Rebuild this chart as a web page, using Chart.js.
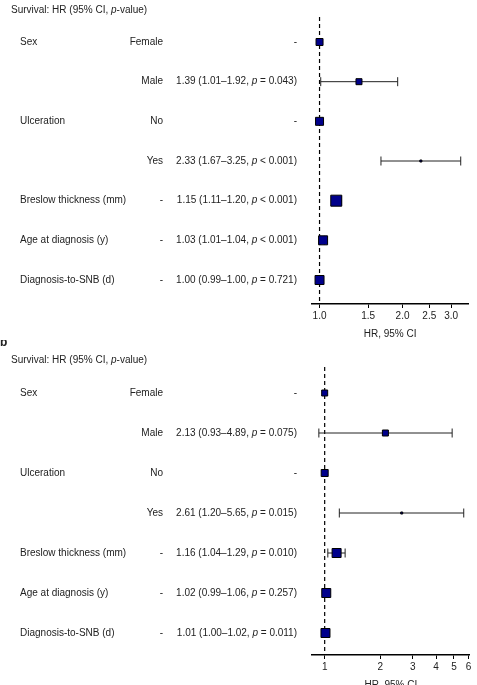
<!DOCTYPE html>
<html><head><meta charset="utf-8">
<script src="https://cdn.jsdelivr.net/npm/chart.js@4/dist/chart.umd.min.js"></script>
<style>
body{margin:0;background:#fff;width:477px;height:685px;overflow:hidden;position:relative}
canvas{position:absolute;left:0}
</style></head><body>
<div style="position:absolute;left:0;top:0;width:477px;height:342px"><canvas id="a"></canvas></div>
<div style="position:absolute;left:0;top:340px;width:477px;height:345px"><canvas id="b"></canvas></div>
<script>
const variables = ["Sex","","Ulceration","","Breslow thickness (mm)","Age at diagnosis (y)","Diagnosis-to-SNB (d)"];
const levels = ["Female","Male","No","Yes","-","-","-"];
// Panel a
const hrA = [1,1.39,1,2.33,1.15,1.03,1.00];
const loA = [null,1.01,null,1.67,1.11,1.01,0.99];
const hiA = [null,1.92,null,3.25,1.20,1.04,1.00];
const pA  = [null,"= 0.043",null,"< 0.001","< 0.001","< 0.001","= 0.721"];
const ticksA = [1.0,1.5,2.0,2.5,3.0];
const tickLabelsA = ["1.0","1.5","2.0","2.5","3.0"];
// Panel b
const hrB = [1,2.13,1,2.61,1.16,1.02,1.01];
const loB = [null,0.93,null,1.20,1.04,0.99,1.00];
const hiB = [null,4.89,null,5.65,1.29,1.06,1.02];
const pB  = [null,"= 0.075",null,"= 0.015","= 0.010","= 0.257","= 0.011"];
const ticksB = [1,2,3,4,5,6];
const tickLabelsB = ["1","2","3","4","5","6"];

const sizeA = [3.5,3,4,1,5.5,4.5,4.5];
const sizeB = [3,3,3.5,1,4.5,4.5,4.5];
const F = '"Liberation Sans", Arial, sans-serif';

function fmt(v){return v.toFixed(2);}

function makeChart(id, letter, hr, lo, hi, p, ticks, labels, sizes, xmin, xmax, ymin, ymax, padTop, padBottom){
  const forest = {
    id:'forest'+id,
    beforeDatasetsDraw(c){
      const ctx=c.ctx, x=c.scales.x, y=c.scales.y, a=c.chartArea;
      ctx.save();
      ctx.strokeStyle='#000'; ctx.lineWidth=1.2; ctx.setLineDash([4,3]);
      const x1=x.getPixelForValue(1);
      ctx.beginPath(); ctx.moveTo(x1,a.top-3); ctx.lineTo(x1,a.bottom); ctx.stroke();
      ctx.setLineDash([]); ctx.lineWidth=1; ctx.strokeStyle='#222';
      hr.forEach((h,i)=>{
        if(lo[i]==null) return;
        const yy=y.getPixelForValue(i+1), l=x.getPixelForValue(lo[i]), r=x.getPixelForValue(hi[i]);
        ctx.beginPath(); ctx.moveTo(l,yy); ctx.lineTo(r,yy);
        ctx.moveTo(l,yy-4.5); ctx.lineTo(l,yy+4.5);
        ctx.moveTo(r,yy-4.5); ctx.lineTo(r,yy+4.5); ctx.stroke();
      });
      ctx.restore();
    },
    afterDraw(c){
      const ctx=c.ctx, y=c.scales.y;
      ctx.save(); ctx.fillStyle='#222'; ctx.textBaseline='middle';
      ctx.font='bold 12px '+F; ctx.textAlign='left'; ctx.fillText(letter,0,padTop-22+ (id==='a'?-6:-5));
      ctx.font='10px '+F;
      const ty=padTop-6-(id==='a'?4:4);
      const t1='Survival: HR (95% CI, ';
      ctx.fillText(t1,11,ty); let w=ctx.measureText(t1).width;
      ctx.font='italic 10px '+F; ctx.fillText('p',11+w,ty); w+=ctx.measureText('p').width;
      ctx.font='10px '+F; ctx.fillText('-value)',11+w,ty);
      hr.forEach((h,i)=>{
        const yy=y.getPixelForValue(i+1);
        ctx.font='10px '+F; ctx.textAlign='left';
        if(variables[i]) ctx.fillText(variables[i],20,yy);
        ctx.textAlign='right'; ctx.fillText(levels[i],163,yy);
        if(lo[i]==null){ ctx.fillText('-',297,yy); return; }
        const s1=fmt(h)+' ('+fmt(lo[i])+'\u2013'+fmt(hi[i])+', ', s2='p', s3=' '+p[i]+')';
        ctx.font='10px '+F; const w1=ctx.measureText(s1).width, w3=ctx.measureText(s3).width;
        ctx.font='italic 10px '+F; const w2=ctx.measureText(s2).width;
        let x0=297-w1-w2-w3; ctx.textAlign='left';
        ctx.font='10px '+F; ctx.fillText(s1,x0,yy);
        ctx.font='italic 10px '+F; ctx.fillText(s2,x0+w1,yy);
        ctx.font='10px '+F; ctx.fillText(s3,x0+w1+w2,yy);
      });
      ctx.restore();
    }
  };
  return new Chart(document.getElementById(id),{
    type:'scatter',
    data:{datasets:[{data:hr.map((h,i)=>({x:h,y:i+1})),pointStyle:'rect',
      pointRadius:sizes.map(s=>s/Math.SQRT1_2),pointHoverRadius:sizes.map(s=>s/Math.SQRT1_2),
      backgroundColor:'#00008B',borderColor:'#000',borderWidth:1}]},
    options:{responsive:true,maintainAspectRatio:false,animation:false,events:[],
      layout:{padding:{left:312,right:2,top:padTop,bottom:padBottom}},
      plugins:{legend:{display:false},tooltip:{enabled:false}},
      scales:{
        x:{type:'logarithmic',min:xmin,max:xmax,
          afterBuildTicks(s){s.ticks=ticks.map(v=>({value:v}));},
          afterFit(s){s.height=36;},
          ticks:{callback:(v)=>{const k=ticks.indexOf(v);return k>=0?labels[k]:'';},
            font:{family:F,size:10},color:'#222',padding:2,maxRotation:0,autoSkip:false},
          grid:{drawOnChartArea:false,tickLength:4,color:'#000'},
          border:{display:true,color:'#000',width:1.5},
          title:{display:true,text:'HR, 95% CI',font:{family:F,size:10},color:'#222',padding:{top:2,bottom:0}}},
        y:{display:false,reverse:true,min:ymin,max:ymax}
      }},
    plugins:[forest]
  });
}
makeChart('a','a',hrA,loA,hiA,pA,ticksA,tickLabelsA,sizeA,0.939,3.46,0.445,7.605,20,2);
makeChart('b','b',hrB,loB,hiB,pB,ticksB,tickLabelsB,sizeB,0.854,6.08,0.425,7.55,30,-6);
</script></body></html>
